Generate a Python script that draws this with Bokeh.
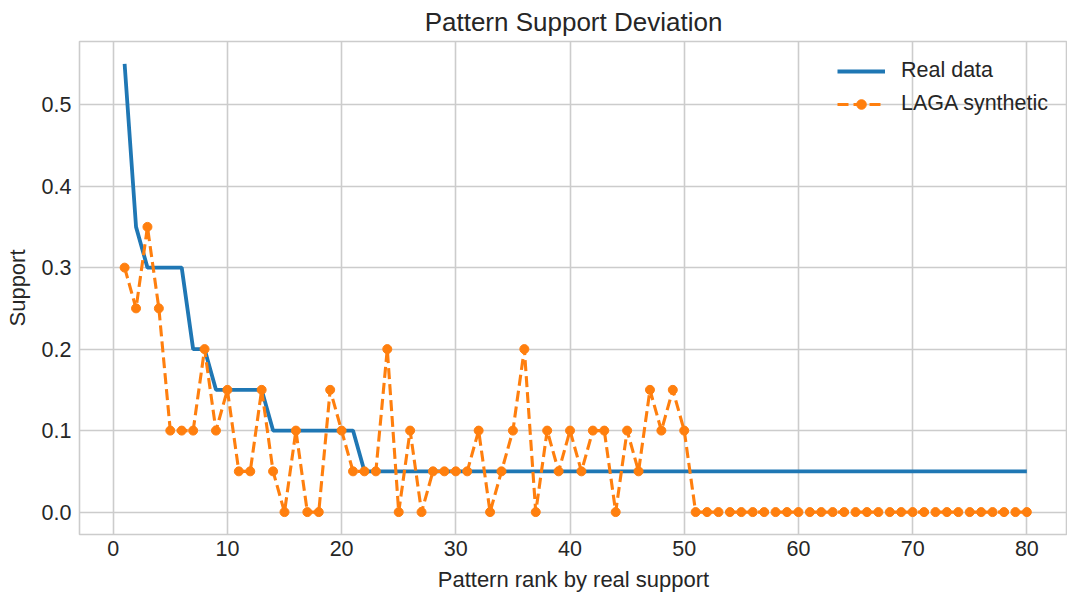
from bokeh.plotting import figure
from bokeh.models import Range1d, FixedTicker, PrintfTickFormatter, Legend, LegendItem
from bokeh.embed import file_html
from bokeh.resources import INLINE

# ---- data ----
rank = list(range(1, 81))
real_support = [0.55, 0.35, 0.30, 0.30, 0.30, 0.30, 0.20, 0.20, 0.15, 0.15, 0.15, 0.15, 0.15] \
    + [0.10] * 8 + [0.05] * 59
laga_support = [0.30, 0.25, 0.35, 0.25, 0.10, 0.10, 0.10, 0.20, 0.10, 0.15,
                0.05, 0.05, 0.15, 0.05, 0.00, 0.10, 0.00, 0.00, 0.15, 0.10,
                0.05, 0.05, 0.05, 0.20, 0.00, 0.10, 0.00, 0.05, 0.05, 0.05,
                0.05, 0.10, 0.00, 0.05, 0.10, 0.20, 0.00, 0.10, 0.05, 0.10,
                0.05, 0.10, 0.10, 0.00, 0.10, 0.05, 0.15, 0.10, 0.15, 0.10] + [0.00] * 30
x_ticks = [0, 10, 20, 30, 40, 50, 60, 70, 80]
y_ticks = [0.0, 0.1, 0.2, 0.3, 0.4, 0.5]

FONT = "Liberation Sans"
TXT = "#262626"
GRID = "#cccccc"

p = figure(width=1067, height=594, output_backend="svg", toolbar_location=None,
           x_range=Range1d(-2.95, 83.56), y_range=Range1d(-0.0275, 0.5775),
           min_border_left=79, min_border_right=0, min_border_top=41, min_border_bottom=60,
           title="Pattern Support Deviation")

p.title.text_font = FONT
p.title.text_font_size = "26px"
p.title.text_font_style = "normal"
p.title.text_color = TXT
p.title.align = "center"
p.title.standoff = 9

p.outline_line_color = GRID
p.outline_line_width = 1.6
p.background_fill_color = "white"
p.border_fill_color = "white"

for ax in (p.xaxis, p.yaxis):
    ax.axis_line_color = None
    ax.major_tick_line_color = None
    ax.minor_tick_line_color = None
    ax.major_tick_out = 0
    ax.major_tick_in = 0
    ax.minor_tick_out = 0
    ax.major_label_text_font = FONT
    ax.major_label_text_font_size = "21.5px"
    ax.major_label_text_color = TXT
    ax.axis_label_text_font = FONT
    ax.axis_label_text_font_size = "22px"
    ax.axis_label_text_font_style = "normal"
    ax.axis_label_text_color = TXT

p.xaxis.ticker = FixedTicker(ticks=x_ticks)
p.yaxis.ticker = FixedTicker(ticks=y_ticks)
p.yaxis.formatter = PrintfTickFormatter(format="%.1f")
p.xaxis.axis_label = "Pattern rank by real support"
p.yaxis.axis_label = "Support"
p.xaxis.major_label_standoff = 6
p.yaxis.major_label_standoff = 8
p.xaxis.axis_label_standoff = 8
p.yaxis.axis_label_standoff = 9

p.xgrid.ticker = FixedTicker(ticks=x_ticks)
p.ygrid.ticker = FixedTicker(ticks=y_ticks)
for g in (p.xgrid, p.ygrid):
    g.grid_line_color = GRID
    g.grid_line_width = 1.6

r_real = p.line(rank, real_support, line_color="#1f77b4", line_width=3.8)
r_laga_line = p.line(rank, laga_support, line_color="#ff7f0e", line_width=3.1, line_dash="11 5")
r_laga_pts = p.scatter(rank, laga_support, size=9, fill_color="#ff7f0e", line_color="#ff7f0e")

legend = Legend(items=[LegendItem(label="Real data", renderers=[r_real]),
                       LegendItem(label="LAGA synthetic", renderers=[r_laga_line, r_laga_pts])],
                location=(758, 418))
legend.padding = 0
legend.margin = 0
legend.border_line_color = None
legend.background_fill_alpha = 0
legend.label_text_font = FONT
legend.label_text_font_size = "21.5px"
legend.label_text_color = TXT
legend.glyph_width = 48
legend.glyph_height = 24
legend.label_height = 24
legend.spacing = 8
legend.label_standoff = 16
p.add_layout(legend)

open("out.html", "w").write(file_html(p, INLINE))
